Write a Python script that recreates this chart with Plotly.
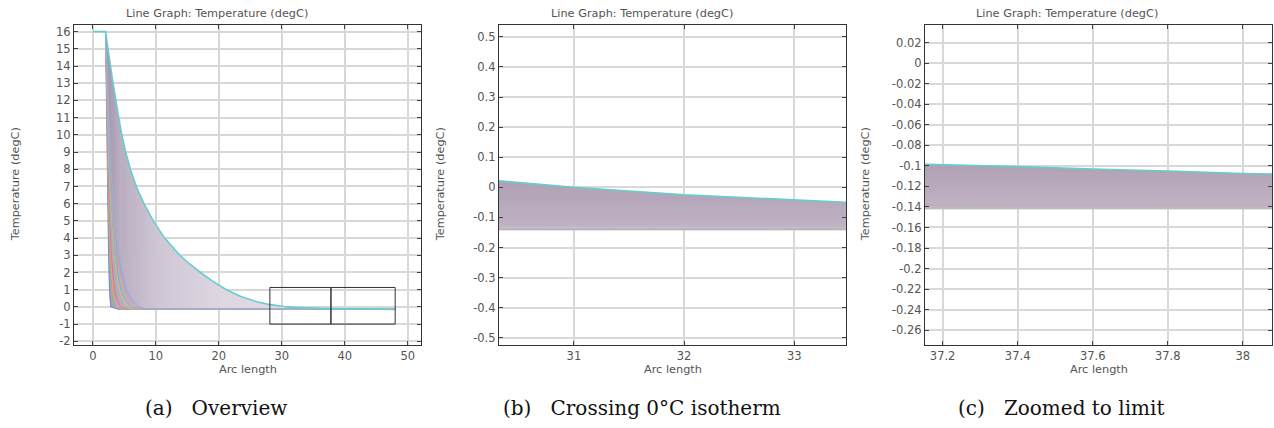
import plotly.graph_objects as go

W, H = 1274, 428

# ---------------- data ----------------
# final (latest) profile, cyan
final_x = [0, 2.0, 2.4, 2.8, 3.2, 3.65, 4.1, 4.6, 5.2, 5.95, 6.9, 8.1, 9.6, 11.4, 13.8, 15.5, 17.1,
           19.0, 21.2, 23.5, 26.0, 28.2, 30.3, 31.0, 32.0, 33.5, 37.15, 37.4, 37.6, 37.8, 38.0, 38.1,
           42.0, 48.0]
final_y = [16, 16, 15, 14, 13, 12, 11, 10, 9, 8, 7, 6, 5, 4, 3, 2.45, 2.0,
           1.5, 1.0, 0.6, 0.3, 0.13, 0.022, 0.0, -0.025, -0.05, -0.0985, -0.1007, -0.103, -0.105, -0.1075, -0.108,
           -0.125, -0.148]

# early profiles (coloured), x where each crosses the levels below
level_y = [16, 12, 8, 5, 3, 2, 1, 0.5, 0, -0.14]
far_x = 48.0
far_y = [-0.143, -0.142, -0.142, -0.141, -0.141, -0.140, -0.140, -0.139, -0.139, -0.138, -0.138, -0.137]
early_x = [
    [2.0, 2.15, 2.3, 2.4, 2.5, 2.55, 2.65, 2.7, 2.85, 4.0],
    [2.0, 2.2, 2.35, 2.5, 2.65, 2.75, 2.95, 3.15, 3.6, 4.6],
    [2.0, 2.22, 2.4, 2.6, 2.8, 2.95, 3.2, 3.45, 4.0, 5.0],
    [2.0, 2.25, 2.45, 2.7, 2.95, 3.15, 3.45, 3.75, 4.4, 5.4],
    [2.0, 2.27, 2.5, 2.8, 3.1, 3.35, 3.7, 4.05, 4.8, 5.8],
    [2.0, 2.3, 2.55, 2.9, 3.25, 3.55, 3.95, 4.35, 5.2, 6.2],
    [2.0, 2.32, 2.6, 3.0, 3.4, 3.75, 4.2, 4.65, 5.6, 6.6],
    [2.0, 2.35, 2.65, 3.1, 3.55, 3.95, 4.45, 4.95, 6.0, 7.0],
    [2.0, 2.37, 2.7, 3.2, 3.7, 4.15, 4.7, 5.25, 6.4, 7.4],
    [2.0, 2.4, 2.75, 3.3, 3.85, 4.35, 4.95, 5.55, 6.8, 7.8],
    [2.0, 2.42, 2.8, 3.4, 4.0, 4.55, 5.2, 5.85, 7.2, 8.2],
    [2.0, 2.45, 2.85, 3.5, 4.15, 4.75, 5.45, 6.15, 7.6, 8.6],
]
early_colors = ['#6f6fe0', '#7cc87c', '#f0a46c', '#e07878', '#e890c8', '#70cccc',
                '#d8c860', '#9c9cf0', '#8cd08c', '#f09494', '#b890d8', '#80c0e0']

# zoom windows shown in the overview
box_x = [[28.1, 37.8], [37.8, 48.0]]
box_y = [-1.0, 1.13]

# ticks
a_xticks = [0, 10, 20, 30, 40, 50]
a_yticks = list(range(-2, 17))
a_ylabels = [str(v) for v in a_yticks]
b_xticks = [31, 32, 33]
b_yticks = [0.5, 0.4, 0.3, 0.2, 0.1, 0, -0.1, -0.2, -0.3, -0.4, -0.5]
b_ylabels = ['0.5', '0.4', '0.3', '0.2', '0.1', '0', '-0.1', '-0.2', '-0.3', '-0.4', '-0.5']
c_xticks = [37.2, 37.4, 37.6, 37.8, 38.0]
c_xlabels = ['37.2', '37.4', '37.6', '37.8', '38']
c_yticks = [0.02, 0, -0.02, -0.04, -0.06, -0.08, -0.1, -0.12, -0.14, -0.16, -0.18, -0.2, -0.22, -0.24, -0.26]
c_ylabels = ['0.02', '0', '-0.02', '-0.04', '-0.06', '-0.08', '-0.1', '-0.12', '-0.14', '-0.16',
             '-0.18', '-0.2', '-0.22', '-0.24', '-0.26']

titles = ["Line Graph: Temperature (degC)"] * 3
captions = ["(a)\u00a0\u00a0\u00a0Overview", "(b)\u00a0\u00a0\u00a0Crossing 0°C isotherm",
            "(c)\u00a0\u00a0\u00a0Zoomed to limit"]

# ---------------- figure ----------------
fig = go.Figure()

# band polygon: lower = first profile, upper = final profile (reversed)
low_x = early_x[0] + [far_x]
low_y = level_y + [far_y[0]]
band_x = low_x + final_x[::-1]
band_y = low_y + final_y[::-1]

panels = [('x', 'y'), ('x2', 'y2'), ('x3', 'y3')]

# panel a band (horizontal gradient)
fig.add_trace(go.Scatter(x=band_x, y=band_y, xaxis='x', yaxis='y', mode='lines',
                         line=dict(width=0, simplify=False), fill='toself',
                         fillgradient=dict(type='horizontal', start=2.0, stop=48.0,
                                           colorscale=[[0, '#a593ad'], [0.05, '#baaec1'],
                                                       [0.18, '#cfc6d4'], [0.4, '#ddd7e1'],
                                                       [1, '#e6e1ea']]),
                         hoverinfo='skip', showlegend=False))
# panel b and c bands (vertical gradient)
for (xa, ya), (s, e) in zip(panels[1:], [(-0.146, 0.025), (-0.1425, -0.098)]):
    fig.add_trace(go.Scatter(x=band_x, y=band_y, xaxis=xa, yaxis=ya, mode='lines',
                             line=dict(width=0, simplify=False), fill='toself',
                             fillgradient=dict(type='vertical', start=s, stop=e,
                                               colorscale=[[0, '#ebe8ed'], [0.05, '#d6cdd9'],
                                                           [0.14, '#bfb2c3'], [1, '#b1a1b5']]),
                             hoverinfo='skip', showlegend=False))

for (xa, ya), op in zip(panels, [0.85, 0.18, 0.18]):
    for xs, fy, col in zip(early_x, far_y, early_colors):
        fig.add_trace(go.Scatter(x=xs + [far_x], y=level_y + [fy], xaxis=xa, yaxis=ya,
                                 mode='lines', line=dict(color=col, width=1, simplify=False),
                                 opacity=op, hoverinfo='skip', showlegend=False))
    fig.add_trace(go.Scatter(x=final_x, y=final_y, xaxis=xa, yaxis=ya, mode='lines',
                             line=dict(color='#66cccc', width=1.6, simplify=False),
                             hoverinfo='skip', showlegend=False))

for bx in box_x:
    fig.add_shape(type='rect', xref='x', yref='y', x0=bx[0], x1=bx[1], y0=box_y[0], y1=box_y[1],
                  line=dict(color='#333333', width=1))

tick_font = dict(family='DejaVu Sans', size=11.5, color='#555555')
axis_common = dict(showline=True, linecolor='#333333', linewidth=1.2, mirror='ticks',
                   ticks='inside', ticklen=4, tickcolor='#444444', tickwidth=1,
                   showgrid=True, gridcolor='#d8d8d8', gridwidth=1.5, zeroline=False,
                   tickfont=tick_font, fixedrange=True)

ytop = 1 - 25 / H
ybot = 1 - 348 / H
xdoms = [(74 / W, 421 / W), (499 / W, 846 / W), (925 / W, 1272 / W)]

fig.update_layout(
    width=W, height=H, margin=dict(l=0, r=0, t=0, b=0),
    paper_bgcolor='white', plot_bgcolor='white', showlegend=False,
    xaxis=dict(domain=xdoms[0], range=[-3.0, 52.1], tickvals=a_xticks, anchor='y', **axis_common),
    yaxis=dict(domain=[ybot, ytop], range=[-2.2, 16.4], tickvals=a_yticks, ticktext=a_ylabels,
               anchor='x', **axis_common),
    xaxis2=dict(domain=xdoms[1], range=[30.32, 33.47], tickvals=b_xticks, anchor='y2', **axis_common),
    yaxis2=dict(domain=[ybot, ytop], range=[-0.523, 0.54], tickvals=b_yticks, ticktext=b_ylabels,
                anchor='x2', **axis_common),
    xaxis3=dict(domain=xdoms[2], range=[37.153, 38.078], tickvals=c_xticks, ticktext=c_xlabels,
                anchor='y3', **axis_common),
    yaxis3=dict(domain=[ybot, ytop], range=[-0.2742, 0.0374], tickvals=c_yticks, ticktext=c_ylabels,
                anchor='x3', **axis_common),
)

label_font = dict(family='DejaVu Sans', size=11.3, color='#555555')
title_x = [216.7, 641.7, 1066.7]
ytitle_x = [15, 440, 865]
cap_x = [216, 641.7, 1061]
ann = []
for i in range(3):
    ann.append(dict(text=titles[i], x=title_x[i] / W, y=1 - 13.3 / H, xref='paper', yref='paper',
                    xanchor='center', yanchor='middle', showarrow=False, font=label_font))
    ann.append(dict(text="Temperature (degC)", x=ytitle_x[i] / W, y=1 - 186 / H, xref='paper',
                    yref='paper', xanchor='center', yanchor='middle', textangle=-90,
                    showarrow=False, font=label_font))
    ann.append(dict(text="Arc length", x=(xdoms[i][0] + xdoms[i][1]) / 2, y=1 - 372.7 / H,
                    xref='paper', yref='paper', xanchor='center', yanchor='middle',
                    showarrow=False, font=label_font))
    ann.append(dict(text=captions[i], x=cap_x[i] / W, y=1 - 412 / H, xref='paper', yref='paper',
                    xanchor='center', yanchor='middle', showarrow=False,
                    font=dict(family='DejaVu Serif', size=20, color='#111111')))
fig.update_layout(annotations=ann)

fig.write_html("out.html")
